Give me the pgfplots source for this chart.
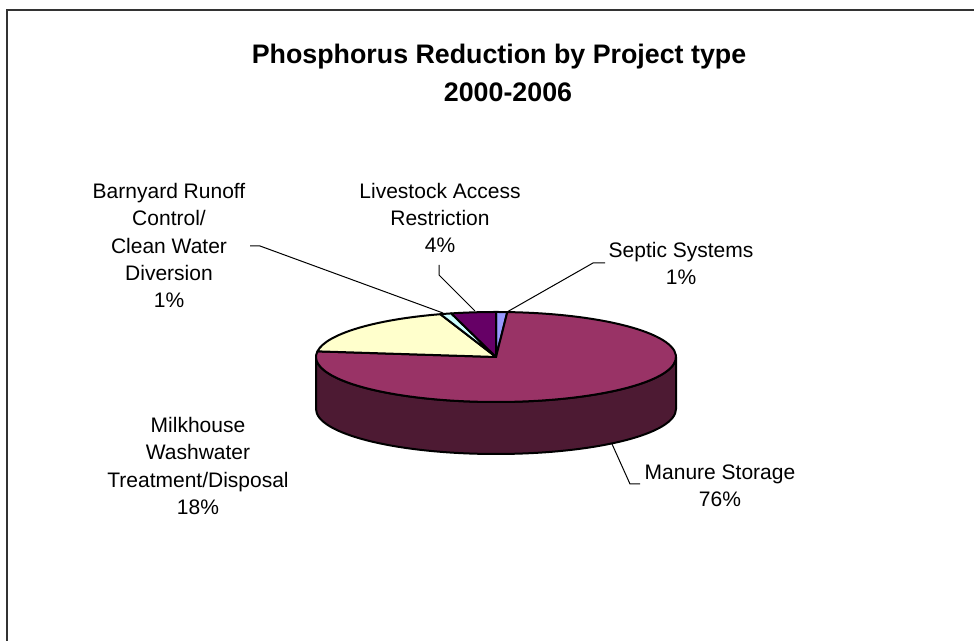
\documentclass[border=0pt]{standalone}
\usepackage{fontspec}
\setmainfont{Liberation Sans}
\usepackage{pgfplots}
\usepackage{pgfplotstable}
\pgfplotsset{compat=1.18}

\definecolor{slice0}{HTML}{9999FF}
\definecolor{slice1}{HTML}{993366}
\definecolor{slice2}{HTML}{FFFFCC}
\definecolor{slice3}{HTML}{CCFFFF}
\definecolor{slice4}{HTML}{660066}
\definecolor{wallcol}{HTML}{4D1A33}
\definecolor{framecol}{HTML}{333333}

\pgfplotstableread[col sep=comma]{
label,value
Septic Systems,1
Manure Storage,76
Milkhouse Washwater Treatment/Disposal,18
Barnyard Runoff Control/Clean Water Diversion,1
Livestock Access Restriction,4
}\piedata

\newcommand{\lbl}{\fontsize{10.5pt}{13.65pt}\selectfont}

\begin{document}
\begin{tikzpicture}
\begin{axis}[
  x=0.5pt, y=0.5pt,
  xmin=0, xmax=974, ymin=0, ymax=641,
  hide axis, clip=false,
  scale only axis,
]
% frame (top and left edges)
\draw[framecol, line width=1pt] (axis cs:7,0) -- (axis cs:7,631) -- (axis cs:974,631);

% title
\node[anchor=base, font=\bfseries\fontsize{13.4pt}{15pt}\selectfont] at (axis cs:499,577.7) {Phosphorus Reduction by Project type};
\node[anchor=base, font=\bfseries\fontsize{13.4pt}{15pt}\selectfont] at (axis cs:508,539.3) {2000-2006};

\pgfplotsextra{%
  % front wall of the pie (only Manure Storage is visible in front)
  \fill[wallcol, draw=black, line width=1pt, line join=round]
    (axis cs:676,284) arc[start angle=0, end angle=-180, x radius=90pt, y radius=22.5pt]
    -- ++(0,-26pt) arc[start angle=-180, end angle=0, x radius=90pt, y radius=22.5pt] -- cycle;
  \xdef\cum{0}%
  \foreach \i in {0,...,4} {%
    \pgfplotstablegetelem{\i}{value}\of\piedata
    \let\val\pgfplotsretval
    \pgfmathsetmacro\ta{90-3.6*\cum}%
    \pgfmathsetmacro\tb{90-3.6*(\cum+\val)}%
    \fill[fill=slice\i, draw=black, line width=1pt, line join=round]
      (axis cs:496,284) -- ++(\ta:90pt and 22.5pt)
      arc[start angle=\ta, end angle=\tb, x radius=90pt, y radius=22.5pt] -- cycle;
    \pgfmathsetmacro\newcum{\cum+\val}%
    \xdef\cum{\newcum}%
  }%
}

% leader lines
\draw[black, line width=0.5pt] (axis cs:250,395) -- (axis cs:260,395) -- (axis cs:443,328);
\draw[black, line width=0.5pt] (axis cs:439,376) -- (axis cs:439,366) -- (axis cs:475,330);
\draw[black, line width=0.5pt] (axis cs:605,378) -- (axis cs:593,378) -- (axis cs:507,329);
\draw[black, line width=0.5pt] (axis cs:640,157) -- (axis cs:630,157) -- (axis cs:612,197);

% data labels
\node[align=center, inner sep=0pt, font=\lbl] at (axis cs:169,395.5) {Barnyard Runoff\\Control/\\Clean Water\\Diversion\\1\%};
\node[align=center, inner sep=0pt, font=\lbl] at (axis cs:440,423) {Livestock Access\\Restriction\\4\%};
\node[align=center, inner sep=0pt, font=\lbl] at (axis cs:681,377.5) {Septic Systems\\1\%};
\node[align=center, inner sep=0pt, font=\lbl] at (axis cs:198,175) {Milkhouse\\Washwater\\Treatment/Disposal\\18\%};
\node[align=center, inner sep=0pt, font=\lbl] at (axis cs:720,155.5) {Manure Storage\\76\%};
\end{axis}
\pgfresetboundingbox
\path (current axis.south west) rectangle (current axis.north east);
\end{tikzpicture}
\end{document}
